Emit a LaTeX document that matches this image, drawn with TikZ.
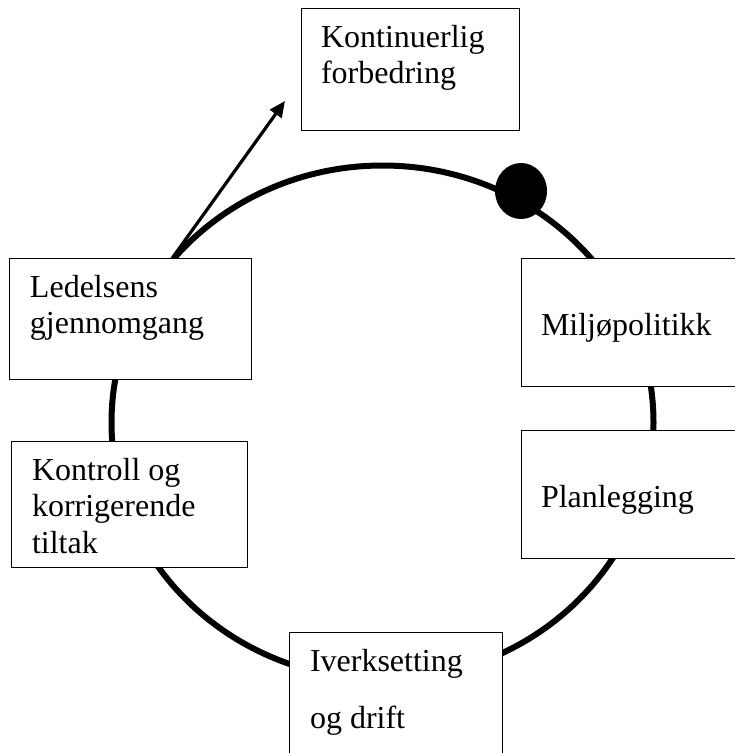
\documentclass[tikz,border=0pt]{standalone}
\usepackage{fontspec}
\setmainfont{Liberation Serif}
\usetikzlibrary{arrows.meta}
\begin{document}
\begin{tikzpicture}[x=1pt,y=1pt,
  boxnode/.style={draw=black, line width=0.9pt, fill=white, anchor=north west, inner sep=0pt, outer sep=0pt},
  txt/.style={anchor=base west, inner sep=0pt, outer sep=0pt, font=\fontsize{32}{36}\selectfont},
  cycle/.style={draw=black, line width=6pt},
  arr/.style={draw=black, line width=3.2pt, -{Triangle[length=16pt,width=14pt]}}]
\useasboundingbox (0,0) rectangle (735,-753);
\fill[white] (0,0) rectangle (735,-753);
% cycle ellipse
\draw[cycle] (382.5,-422.5) ellipse [x radius=271, y radius=257];
% dot
\fill[black] (521,-191) ellipse [x radius=26, y radius=28];
% arrow
\coordinate (astart) at (173,-257);
\coordinate (aend) at (285,-101);
\draw[arr] (astart) -- (aend);
% boxes
\node[boxnode, minimum width=218, minimum height=122] (kb) at (301,-8) {};
\node[boxnode, minimum width=242, minimum height=121] (lb) at (9,-258) {};
\node[boxnode, minimum width=240, minimum height=128] (mb) at (521,-258) {};
\node[boxnode, minimum width=236, minimum height=126] (kkb) at (11,-441) {};
\node[boxnode, minimum width=240, minimum height=128] (pb) at (521,-430) {};
\node[boxnode, minimum width=213, minimum height=150] (ib) at (289,-632) {};
% texts
\node[txt] (t1) at (321,-47) {Kontinuerlig};
\node[txt] (t2) at (321,-83.3) {forbedring};
\node[txt] (t3) at (30,-297) {Ledelsens};
\node[txt] (t4) at (30,-333) {gjennomgang};
\node[txt] (t5) at (541,-335) {Miljøpolitikk};
\node[txt] (t6) at (32,-480) {Kontroll og};
\node[txt] (t7) at (32,-516) {korrigerende};
\node[txt] (t8) at (32,-553) {tiltak};
\node[txt] (t9) at (541,-507) {Planlegging};
\node[txt] (t10) at (310,-671.7) {Iverksetting};
\node[txt] (t11) at (310,-728.3) {og drift};
\end{tikzpicture}
\end{document}
